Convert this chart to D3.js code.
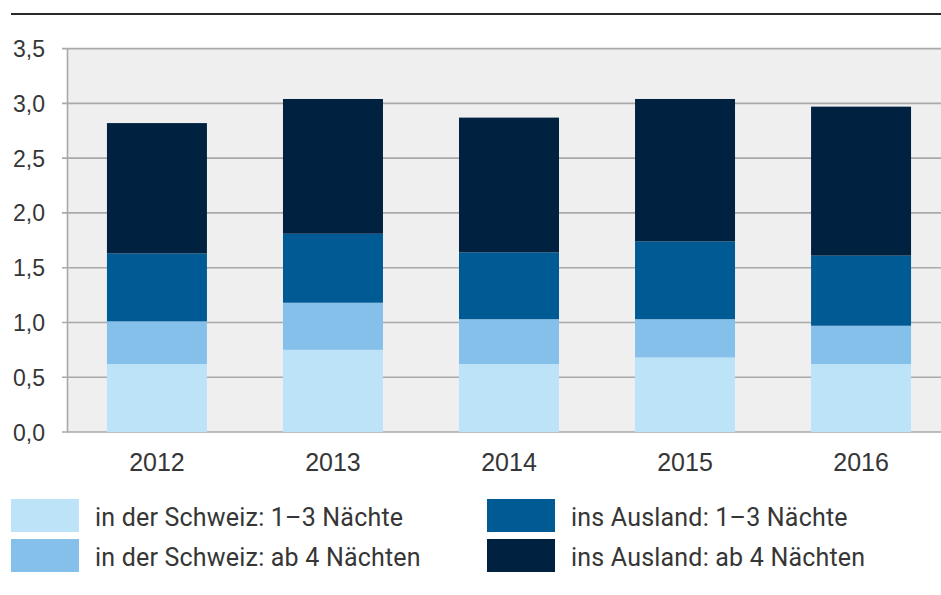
<!DOCTYPE html>
<html>
<head>
<meta charset="utf-8">
<script src="https://cdn.jsdelivr.net/npm/d3@7"></script>
<style>
  body { margin: 0; background: #fff; }
  svg { display: block; font-family: Roboto, "Noto Sans", sans-serif; }
</style>
</head>
<body>
<svg id="chart" width="941" height="595"></svg>
<script>
// Reisen pro Person, nach Ziel und Dauer
var years = ["2012", "2013", "2014", "2015", "2016"];
var chShort = [0.62, 0.75, 0.62, 0.68, 0.62];   // in der Schweiz: 1-3 Nächte
var chLong  = [0.39, 0.43, 0.41, 0.35, 0.35];   // in der Schweiz: ab 4 Nächten
var abShort = [0.62, 0.63, 0.61, 0.71, 0.64];   // ins Ausland: 1-3 Nächte
var abLong  = [1.19, 1.23, 1.23, 1.30, 1.36];   // ins Ausland: ab 4 Nächten
var yTicks = [0, 0.5, 1, 1.5, 2, 2.5, 3, 3.5];

var seriesKeys = ["chShort", "chLong", "abShort", "abLong"];
var seriesNames = ["in der Schweiz: 1\u20133 Nächte", "in der Schweiz: ab 4 Nächten",
                   "ins Ausland: 1\u20133 Nächte", "ins Ausland: ab 4 Nächten"];
var colors = {chShort: "#bce3f8", chLong: "#85c0ea", abShort: "#005a94", abLong: "#00213f"};
var textColor = "#363636";

var svg = d3.select("#chart");
var plotLeft = 67, plotRight = 941, plotTop = 48.6, plotBottom = 432;

var rows = years.map(function(y, i) {
    return {year: y, chShort: chShort[i], chLong: chLong[i], abShort: abShort[i], abLong: abLong[i]};
});
var stacked = d3.stack().keys(seriesKeys)(rows);

var x = d3.scaleBand()
    .domain(years)
    .range([plotLeft, 951])
    .paddingInner(0.432)
    .paddingOuter(0.227);

var y = d3.scaleLinear()
    .domain([0, 3.5])
    .range([plotBottom, plotTop]);

// top rule
svg.append("line")
    .attr("x1", 11).attr("x2", 941)
    .attr("y1", 14).attr("y2", 14)
    .attr("stroke", "#2a2a2a")
    .attr("stroke-width", 2);

// plot background
svg.append("rect")
    .attr("x", plotLeft).attr("y", y(3.5))
    .attr("width", plotRight - plotLeft).attr("height", plotBottom - y(3.5))
    .attr("fill", "#efefef");

// gridlines
svg.append("g")
    .selectAll("line")
    .data(yTicks)
    .enter().append("line")
    .attr("x1", plotLeft - 5).attr("x2", plotRight)
    .attr("y1", function(d) { return y(d); })
    .attr("y2", function(d) { return y(d); })
    .attr("stroke", "#a9a9a9")
    .attr("stroke-width", 1.6);

// y axis
var yAxis = svg.append("g")
    .attr("transform", "translate(" + plotLeft + ",0)")
    .call(d3.axisLeft(y).tickValues(yTicks).tickSize(0).tickPadding(22)
        .tickFormat(function(d) { return d3.format(".1f")(d).replace(".", ","); }));
yAxis.select(".domain")
    .attr("stroke", "#a9a9a9")
    .attr("stroke-width", 1.6);
yAxis.selectAll("text")
    .attr("fill", textColor)
    .attr("font-size", "23px")
    .attr("dy", "0.35em");

// bars
svg.append("g")
    .selectAll("g")
    .data(stacked)
    .enter().append("g")
    .attr("fill", function(d) { return colors[d.key]; })
    .selectAll("rect")
    .data(function(d) { return d; })
    .enter().append("rect")
    .attr("x", function(d) { return x(d.data.year); })
    .attr("width", x.bandwidth())
    .attr("y", function(d) { return y(d[1]); })
    .attr("height", function(d) { return y(d[0]) - y(d[1]); });

// x axis labels
var xAxis = svg.append("g")
    .attr("transform", "translate(0," + plotBottom + ")")
    .call(d3.axisBottom(x).tickSize(0).tickPadding(21));
xAxis.select(".domain").remove();
xAxis.selectAll("text")
    .attr("fill", textColor)
    .attr("font-size", "25px");

// legend
var legend = svg.append("g")
    .selectAll("g")
    .data(seriesKeys)
    .enter().append("g")
    .attr("transform", function(d, i) {
        var col = i < 2 ? 0 : 1, row = i % 2;
        return "translate(" + (col ? 487 : 11) + "," + (499 + row * 40) + ")";
    });
legend.append("rect")
    .attr("width", 68).attr("height", 33)
    .attr("fill", function(d) { return colors[d]; });
legend.append("text")
    .attr("x", 84).attr("y", 26.5)
    .attr("fill", textColor)
    .attr("font-size", "25px")
    .attr("letter-spacing", "0.2px")
    .text(function(d, i) { return seriesNames[i]; });
</script>
</body>
</html>
